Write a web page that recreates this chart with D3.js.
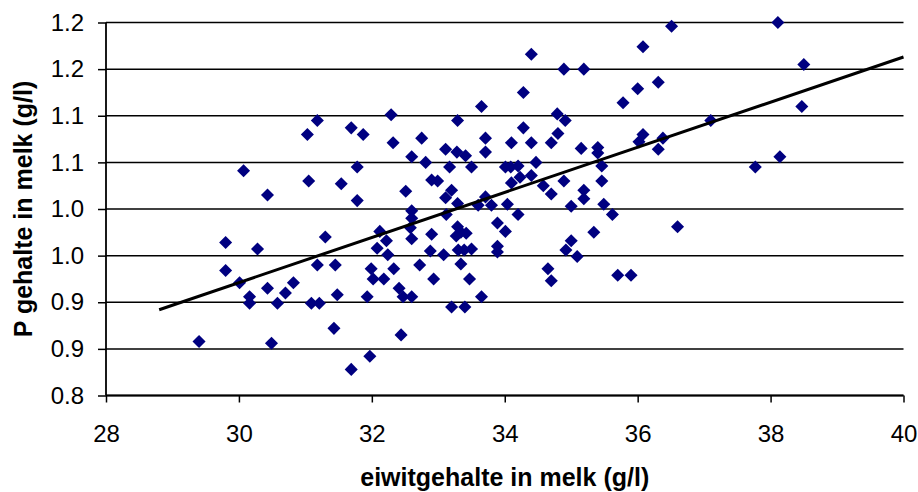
<!DOCTYPE html>
<html>
<head>
<meta charset="utf-8">
<script src="https://cdn.jsdelivr.net/npm/d3@7"></script>
<style>
  body { margin: 0; background: #fff; }
  svg text { font-family: "Liberation Sans", Arial, sans-serif; }
</style>
</head>
<body>
<div id="chart"></div>
<script>
// eiwitgehalte (g/l) per sample
const eiwit = [
  29.40, 29.80, 29.80, 30.01, 30.07, 30.16, 30.16, 30.28, 30.43, 30.43,
  30.49, 30.58, 30.70, 30.82, 31.03, 31.05, 31.09, 31.18, 31.18, 31.21,
  31.30, 31.43, 31.45, 31.48, 31.54, 31.69, 31.69, 31.78, 31.78, 31.87,
  31.93, 31.97, 31.99, 32.02,
  32.29, 33.65, 34.28, 34.40, 34.89, 35.19, 34.79, 34.91, 33.29, 34.28,
  32.32, 32.75, 33.71, 34.80, 34.70, 34.10, 34.40, 35.15, 35.40, 35.40,
  33.11, 33.28, 33.41, 33.71, 32.60, 32.81, 33.17, 33.50, 34.01, 34.09,
  34.20, 34.47, 35.46, 34.23, 34.40, 34.10, 34.58, 34.89, 35.46, 32.90,
  32.99, 32.51, 33.20, 33.11, 34.70, 35.19, 35.19, 33.29, 33.60, 33.71,
  33.80, 34.04, 35.00, 35.49, 32.60, 32.60, 33.12, 34.20, 35.62, 33.89,
  34.01, 35.34, 32.12, 32.22, 32.08, 32.24, 32.58, 32.60, 32.90, 32.88,
  33.08, 33.29, 33.34, 33.42, 33.27, 33.30, 33.39, 33.50, 33.89, 33.89,
  35.00, 34.92, 35.09, 32.18, 32.33, 32.72, 33.34, 32.93, 33.47, 34.65,
  34.70, 32.41, 32.47, 32.60, 33.65, 33.20, 33.40, 32.44, 35.70, 35.90,
  35.78, 36.00, 36.08, 36.31, 36.51, 36.08, 36.02, 36.38, 36.31, 36.60,
  37.10, 37.77, 38.11, 38.14, 38.47, 38.50
];
// P gehalte (g/l) per sample
const pGehalte = [
  0.858, 0.964, 0.934, 0.921, 1.041, 0.906, 0.899, 0.957, 1.015, 0.915,
  0.856, 0.899, 0.910, 0.921, 1.080, 1.030, 0.899, 1.095, 0.940, 0.899,
  0.970, 0.872, 0.940, 0.908, 1.027, 1.087, 0.828, 1.045, 1.009, 1.080,
  0.906, 0.842, 0.936, 0.925,
  1.101, 1.110, 1.125, 1.166, 1.150, 1.150, 1.102, 1.095, 1.095, 1.087,
  1.071, 1.076, 1.076, 1.081, 1.071, 1.071, 1.071, 1.065, 1.066, 1.060,
  1.064, 1.061, 1.057, 1.061, 1.056, 1.050, 1.045, 1.045, 1.045, 1.045,
  1.046, 1.050, 1.046, 1.034, 1.036, 1.028, 1.025, 1.030, 1.030, 1.031,
  1.030, 1.019, 1.020, 1.012, 1.016, 1.020, 1.011, 1.006, 1.004, 1.013,
  1.004, 1.005, 1.003, 1.005, 0.998, 0.990, 0.994, 0.994, 0.994, 0.985,
  0.976, 0.975, 0.976, 0.966, 0.958, 0.951, 0.980, 0.968, 0.973, 0.955,
  0.951, 0.981, 0.975, 0.974, 0.971, 0.956, 0.956, 0.957, 0.960, 0.954,
  0.966, 0.956, 0.949, 0.925, 0.936, 0.940, 0.941, 0.925, 0.925, 0.936,
  0.923, 0.915, 0.906, 0.906, 0.906, 0.895, 0.895, 0.865, 0.929, 0.929,
  1.114, 1.129, 1.174, 1.136, 1.196, 1.080, 1.072, 1.076, 1.064, 0.981,
  1.095, 1.045, 1.200, 1.056, 1.110, 1.155
];

// trendline end points
const trendX = [28.8, 40];
const trendY = [0.892, 1.163];

const xTicks = [28, 30, 32, 34, 36, 38, 40];
const yTicks = [0.8, 0.85, 0.9, 0.95, 1.0, 1.05, 1.1, 1.15, 1.2];
const yTickLabels = ["0.8", "0.9", "0.9", "1.0", "1.0", "1.1", "1.1", "1.2", "1.2"];

const W = 918, H = 492;
const margin = {top: 22.5, right: 14.5, bottom: 96.5, left: 106};
const width = W - margin.left - margin.right;
const height = H - margin.top - margin.bottom;

const svg = d3.select('#chart').append('svg')
  .attr('width', W)
  .attr('height', H);

const g = svg.append('g')
  .attr('transform', 'translate(' + margin.left + ',' + margin.top + ')');

const x = d3.scaleLinear().domain([28, 40]).range([0, width]);
const y = d3.scaleLinear().domain([0.8, 1.2]).range([height, 0]);

// gridlines
g.append('g')
  .attr('class', 'grid')
  .selectAll('line')
  .data(yTicks)
  .join('line')
  .attr('x1', 0)
  .attr('x2', width)
  .attr('y1', d => y(d))
  .attr('y2', d => y(d))
  .attr('stroke', '#000')
  .attr('stroke-width', 1.5);

// axes
const yAxis = g.append('g')
  .call(d3.axisLeft(y)
    .tickValues(yTicks)
    .tickFormat((d, i) => yTickLabels[i])
    .tickSize(8)
    .tickPadding(14));

const xAxis = g.append('g')
  .attr('transform', 'translate(0,' + height + ')')
  .call(d3.axisBottom(x)
    .tickValues(xTicks)
    .tickSize(7)
    .tickPadding(22));

[yAxis, xAxis].forEach(function (a) {
  a.select('.domain').attr('stroke', '#000').attr('stroke-width', 1.8);
  a.selectAll('.tick line').attr('stroke', '#000').attr('stroke-width', 1.5);
  a.selectAll('.tick text')
    .attr('fill', '#000')
    .style('font-size', '24px');
});
// no outer tick caps on domain
yAxis.select('.domain').attr('d', 'M0,0V' + height);
xAxis.select('.domain').attr('d', 'M0,0H' + width);

// points
const pts = eiwit.map((d, i) => ({x: d, y: pGehalte[i]}));
const diamond = d3.symbol().type(d3.symbolSquare).size(85);

g.append('g')
  .selectAll('path')
  .data(pts)
  .join('path')
  .attr('d', diamond)
  .attr('transform', d => 'translate(' + x(d.x) + ',' + y(d.y) + ') rotate(45)')
  .attr('fill', '#000080');

// trendline
g.append('line')
  .attr('x1', x(trendX[0]))
  .attr('y1', y(trendY[0]))
  .attr('x2', x(trendX[1]))
  .attr('y2', y(trendY[1]))
  .attr('stroke', '#000')
  .attr('stroke-width', 3);

// axis titles
svg.append('text')
  .attr('x', margin.left + width / 2)
  .attr('y', 486)
  .attr('text-anchor', 'middle')
  .style('font-size', '25px')
  .style('font-weight', 'bold')
  .text('eiwitgehalte in melk (g/l)');

svg.append('text')
  .attr('transform', 'translate(32,' + (margin.top + height / 2) + ') rotate(-90)')
  .attr('text-anchor', 'middle')
  .style('font-size', '25px')
  .style('font-weight', 'bold')
  .text('P gehalte in melk (g/l)');
</script>
</body>
</html>
